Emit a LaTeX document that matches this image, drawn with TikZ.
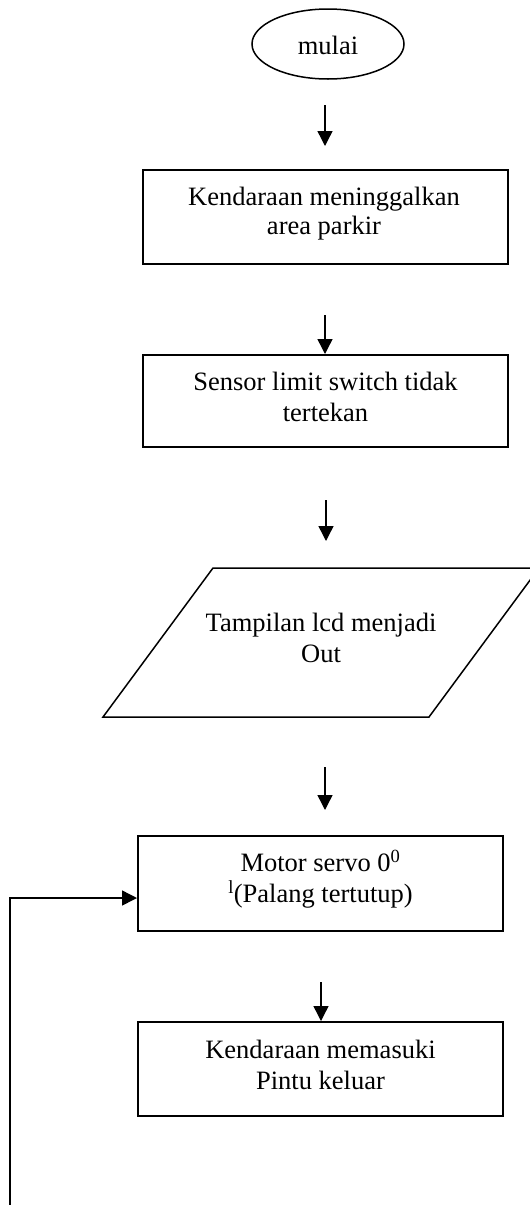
\documentclass[tikz,border=0pt]{standalone}
\usepackage{fontspec}
\setmainfont{Liberation Serif}
\usetikzlibrary{arrows.meta,calc,shapes.geometric}
\begin{document}
\begin{tikzpicture}[x=1pt,y=-1pt,
  box/.style={draw, line width=2pt, minimum width=365pt, inner sep=0pt},
  txt/.style={align=center, font=\fontsize{26.5}{31}\selectfont, inner sep=0pt},
  tip/.style={-{Triangle[length=15pt,width=15pt]}},
  arr/.style={line width=1.4pt, tip},
  fline/.style={line width=1.5pt}]
\useasboundingbox (0,0) rectangle (530,1205);
% start
\node[draw, ellipse, line width=1.5pt, minimum width=152pt, minimum height=70pt, inner sep=0pt] (start) at (328,44) {};
\node[txt] (tstart) at (328,45) {mulai};
% box 1
\node[box, minimum height=94pt] (b1) at (325.5,217) {};
\node[txt, font=\fontsize{26.5}{29}\selectfont] (t1) at (324,214) {Kendaraan meninggalkan\\area parkir};
% box 2
\node[box, minimum height=92pt] (b2) at (325.5,401) {};
\node[txt] (t2) at (325.5,397) {Sensor limit switch tidak\\tertekan};
% parallelogram
\coordinate (p1) at (213,568);
\coordinate (p2) at (539,568);
\coordinate (p3) at (429,717);
\coordinate (p4) at (103,717);
\draw[fline, line join=miter] (p1) -- (p2) -- (p3) -- (p4) -- cycle;
\node[txt] (t3) at (321,637.5) {Tampilan lcd menjadi\\Out};
% box 4
\node[box, minimum height=95pt] (b4) at (320.5,883.5) {};
\node[txt] (t4) at (320.5,879) {Motor servo 0\textsuperscript{0}\\\textsuperscript{l}(Palang tertutup)};
% box 5
\node[box, minimum height=94pt] (b5) at (320.5,1069) {};
\node[txt] (t5) at (320.5,1064.5) {Kendaraan memasuki\\Pintu keluar};
% arrows
\coordinate (a1s) at (325,105);
\coordinate (a1e) at (325,146);
\draw[arr] (a1s) -- (a1e);
\coordinate (a2s) at (325,315);
\draw[arr] (a2s) -- (a2s |- b2.north);
\coordinate (a3s) at (326,500);
\coordinate (a3e) at (326,541);
\draw[arr] (a3s) -- (a3e);
\coordinate (a4s) at (325,767);
\coordinate (a4e) at (325,810);
\draw[arr] (a4s) -- (a4e);
\coordinate (a5s) at (321,982);
\draw[arr] (a5s) -- (a5s |- b5.north);
% feedback
\coordinate (fbs) at (10,1206);
\coordinate (fbc) at (10,898);
\draw[fline, tip] (fbs) -- (fbc) -- (fbc -| b4.west);
\end{tikzpicture}
\end{document}
